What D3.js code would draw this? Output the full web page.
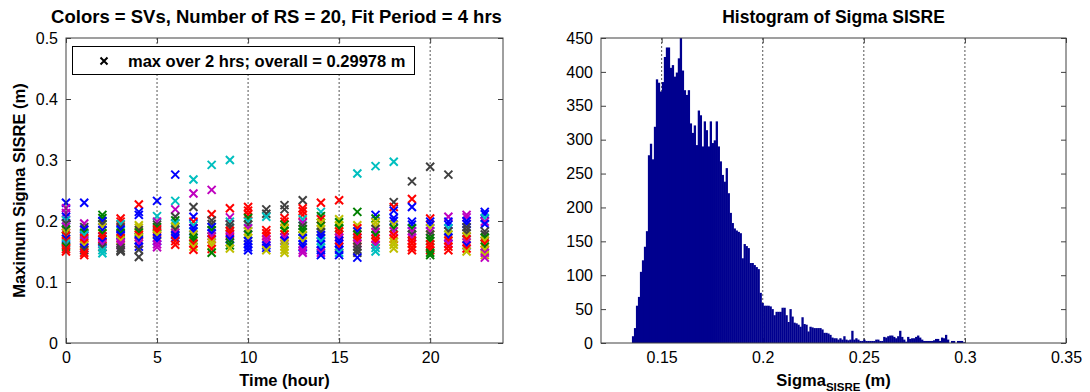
<!DOCTYPE html>
<html>
<head>
<meta charset="utf-8">
<script src="https://cdn.jsdelivr.net/npm/d3@7"></script>
<style>
  body { margin: 0; background: #fff; }
  text { font-family: "Liberation Sans", Arial, sans-serif; fill: #000; }
</style>
</head>
<body>
<svg id="chart" width="1090" height="392"></svg>
<script>
// ---- data ----
const hours = [0, 1, 2, 3, 4, 5, 6, 7, 8, 9, 10, 11, 12, 13, 14, 15, 16, 17, 18, 19, 20, 21, 22, 23];

// max sigma SISRE per SV, one list per hour (top to bottom)
const svValues = [
  [0.230, 0.221, 0.213, 0.207, 0.201, 0.196, 0.191, 0.186, 0.181, 0.176, 0.171, 0.167, 0.163, 0.158, 0.154, 0.150],
  [0.230, 0.196, 0.190, 0.186, 0.181, 0.177, 0.172, 0.168, 0.164, 0.160, 0.156, 0.152, 0.148, 0.144],
  [0.210, 0.205, 0.200, 0.195, 0.190, 0.185, 0.180, 0.175, 0.170, 0.166, 0.162, 0.157, 0.152, 0.147],
  [0.204, 0.199, 0.195, 0.190, 0.186, 0.181, 0.177, 0.172, 0.168, 0.164, 0.160, 0.156, 0.152, 0.150],
  [0.227, 0.215, 0.210, 0.193, 0.189, 0.185, 0.181, 0.177, 0.173, 0.168, 0.163, 0.158, 0.153, 0.141],
  [0.233, 0.208, 0.199, 0.194, 0.190, 0.186, 0.181, 0.177, 0.172, 0.167, 0.162, 0.157],
  [0.276, 0.233, 0.219, 0.207, 0.201, 0.196, 0.191, 0.186, 0.181, 0.177, 0.172, 0.167, 0.161],
  [0.268, 0.245, 0.223, 0.207, 0.199, 0.193, 0.188, 0.183, 0.178, 0.173, 0.168, 0.163, 0.158, 0.153],
  [0.292, 0.251, 0.211, 0.201, 0.195, 0.190, 0.185, 0.180, 0.175, 0.170, 0.165, 0.160, 0.154, 0.148],
  [0.300, 0.221, 0.206, 0.199, 0.194, 0.189, 0.184, 0.179, 0.175, 0.170, 0.165, 0.160, 0.155],
  [0.223, 0.217, 0.211, 0.205, 0.199, 0.194, 0.188, 0.183, 0.178, 0.172, 0.167, 0.162, 0.157, 0.152],
  [0.219, 0.212, 0.207, 0.185, 0.180, 0.175, 0.170, 0.165, 0.160, 0.156, 0.152],
  [0.226, 0.219, 0.205, 0.199, 0.194, 0.189, 0.184, 0.178, 0.173, 0.168, 0.163, 0.158, 0.153, 0.148],
  [0.234, 0.221, 0.216, 0.210, 0.203, 0.197, 0.192, 0.187, 0.182, 0.177, 0.172, 0.167, 0.162, 0.157, 0.152, 0.148],
  [0.230, 0.215, 0.208, 0.203, 0.197, 0.192, 0.187, 0.182, 0.177, 0.172, 0.167, 0.162, 0.157, 0.152, 0.148, 0.144],
  [0.234, 0.203, 0.198, 0.193, 0.188, 0.183, 0.178, 0.173, 0.168, 0.163, 0.158, 0.153, 0.148, 0.144],
  [0.278, 0.215, 0.193, 0.188, 0.183, 0.178, 0.173, 0.168, 0.163, 0.158, 0.153, 0.148, 0.140],
  [0.290, 0.210, 0.204, 0.198, 0.192, 0.187, 0.182, 0.177, 0.171, 0.166, 0.161, 0.156, 0.150],
  [0.297, 0.231, 0.223, 0.217, 0.205, 0.200, 0.194, 0.188, 0.183, 0.177, 0.171, 0.166, 0.161, 0.155],
  [0.265, 0.236, 0.223, 0.199, 0.194, 0.188, 0.183, 0.178, 0.173, 0.168, 0.163, 0.157, 0.152],
  [0.289, 0.204, 0.199, 0.194, 0.188, 0.183, 0.178, 0.172, 0.167, 0.162, 0.157, 0.152, 0.148, 0.144],
  [0.276, 0.207, 0.199, 0.194, 0.188, 0.183, 0.178, 0.173, 0.168, 0.163, 0.158, 0.152],
  [0.210, 0.206, 0.200, 0.195, 0.190, 0.185, 0.180, 0.175, 0.170, 0.165, 0.160, 0.155, 0.150],
  [0.215, 0.211, 0.205, 0.199, 0.195, 0.183, 0.178, 0.173, 0.168, 0.163, 0.158, 0.153, 0.148, 0.144, 0.140]
];

// matlab colour letter of each point above
const svColors = [
  "bmmbckmgyrbrcgrr",
  "bmkbgcrmrybkrr",
  "ggbkybgrrbmkcc",
  "rrckbgbrymmkkk",
  "rbbyykgrybmbkk",
  "bcmkgrrybbmm",
  "bcmkgcykmbbrr",
  "cmkbrcbbyggryr",
  "cmrkkbgbmryyrg",
  "crmckkrrmbggy",
  "rrrgckmygybbbb",
  "kkcrrrmmbby",
  "kkrrgygrmbyyyy",
  "krrrcmkggybybbmm",
  "rcgrygykbbcbcbmb",
  "rygygrrmbbrbcb",
  "cgyrbgrrmkkkb",
  "cbgyykmgrrmcc",
  "ckrbbbygmrryyy",
  "krbbbgmkmrrrr",
  "krbbymkggrrrgg",
  "kmbbckybrmrr",
  "mmbbkkkyrmbry",
  "bbcmbkkgyrgymym"
];

// histogram of sigma SISRE, counts per bin from 0.1353 to 0.300
const histLo = 0.1353;
const histHi = 0.300;
const histCounts = [
  10, 22, 55, 68, 105, 122, 142, 165, 277, 294, 271, 319, 389, 384, 371, 385, 422, 436, 436, 406,
  410, 393, 399, 420, 450, 402, 373, 366, 373, 324, 310, 321, 292, 343, 336, 290,
  327, 314, 290, 327, 295, 299, 327, 290, 268, 248, 238, 258, 221, 192, 177, 169, 166, 164, 162, 125,
  146, 143, 140, 118, 118, 115, 112, 109, 74, 59, 55, 55, 55, 54, 50, 41, 46, 46,
  46, 52, 52, 41, 31, 50, 39, 30, 29, 27, 24, 38, 28, 27, 17, 24, 23, 22, 22, 22,
  22, 20, 15, 15, 14, 12, 8, 7, 7, 5, 7, 5, 10, 5, 4, 5, 18, 5, 7,
  5, 3, 3, 5, 3, 3, 3, 3, 3, 5, 5, 3, 3, 9, 8, 10, 11, 11, 9, 7,
  10, 18, 9, 5, 2, 9, 6, 7, 7, 9, 11, 8, 5, 3, 3, 3, 3, 3, 4, 6,
  6, 3, 8, 7, 12, 5, 0, 3, 3, 0, 3, 3, 3, 1
];

const leftXTicks = [0, 5, 10, 15, 20];
const leftYTicks = [0, 0.1, 0.2, 0.3, 0.4, 0.5];
const rightXTicks = [0.15, 0.2, 0.25, 0.3, 0.35];
const rightYTicks = [0, 50, 100, 150, 200, 250, 300, 350, 400, 450];

const matlabColors = {
  b: "#0000ff", g: "#008000", r: "#ff0000", c: "#00bfbf",
  m: "#bf00bf", y: "#bfbf00", k: "#404040"
};

const svg = d3.select("#chart");
const frameColor = "#404040";
const tickFont = 16;
const titleFont = 18.5;

// draws a matlab style box with inward ticks on all sides
function drawFrame(g, x, y, xTicks, yTicks, xFmt, yFmt, gridX) {
  const [x0, x1] = x.range();
  const [y0, y1] = y.range();

  if (gridX) {
    g.append("g").selectAll("line")
      .data(xTicks.filter(d => x(d) > x0 + 1 && x(d) < x1 - 1))
      .enter().append("line")
      .attr("x1", d => x(d)).attr("x2", d => x(d))
      .attr("y1", y1).attr("y2", y0)
      .attr("stroke", "#555")
      .attr("stroke-width", 1)
      .attr("stroke-dasharray", "2,2");
  }

  const bottom = g.append("g").attr("transform", "translate(0," + y0 + ")")
    .call(d3.axisBottom(x).tickValues(xTicks).tickFormat(xFmt).tickSizeInner(-5).tickSizeOuter(0).tickPadding(9));
  const top = g.append("g").attr("transform", "translate(0," + y1 + ")")
    .call(d3.axisTop(x).tickValues(xTicks).tickFormat("").tickSizeInner(-5).tickSizeOuter(0));
  const left = g.append("g").attr("transform", "translate(" + x0 + ",0)")
    .call(d3.axisLeft(y).tickValues(yTicks).tickFormat(yFmt).tickSizeInner(-5).tickSizeOuter(0).tickPadding(8));
  const right = g.append("g").attr("transform", "translate(" + x1 + ",0)")
    .call(d3.axisRight(y).tickValues(yTicks).tickFormat("").tickSizeInner(-5).tickSizeOuter(0));

  [bottom, top, left, right].forEach(a => {
    a.select(".domain").remove();
    a.selectAll("line").attr("stroke", frameColor);
    a.selectAll("text")
      .attr("font-size", tickFont)
      .attr("font-family", "Liberation Sans, Arial, sans-serif")
      .attr("fill", "#000");
  });

  return g;
}

function drawBorder(g, x, y) {
  const [x0, x1] = x.range();
  const [y0, y1] = y.range();
  g.append("rect")
    .attr("x", x0).attr("y", y1)
    .attr("width", x1 - x0).attr("height", y0 - y1)
    .attr("fill", "none")
    .attr("stroke", frameColor)
    .attr("stroke-width", 1);
}

// ---------------- left: scatter ----------------
const xL = d3.scaleLinear().domain([0, 24]).range([66, 503]);
const yL = d3.scaleLinear().domain([0, 0.5]).range([343, 38]);

const gL = svg.append("g");
drawFrame(gL, xL, yL, leftXTicks, leftYTicks, d3.format("d"), d => d === 0 ? "0" : d3.format(".1f")(d), true);

const pts = [];
hours.forEach((h, i) => {
  svValues[i].forEach((v, j) => {
    pts.push({ h: h, v: v, c: matlabColors[svColors[i][j]] });
  });
});

const xr = 4;
gL.append("g").selectAll("path")
  .data(pts)
  .enter().append("path")
  .attr("transform", d => "translate(" + xL(d.h) + "," + yL(d.v) + ")")
  .attr("d", "M" + (-xr) + "," + (-xr) + "L" + xr + "," + xr + "M" + (-xr) + "," + xr + "L" + xr + "," + (-xr))
  .attr("stroke", d => d.c)
  .attr("stroke-width", 2)
  .attr("fill", "none");

drawBorder(gL, xL, yL);

// legend
const lg = gL.append("g");
lg.append("rect")
  .attr("x", 72.5).attr("y", 46.5)
  .attr("width", 342).attr("height", 28)
  .attr("fill", "#fff").attr("stroke", "#000").attr("stroke-width", 1);
lg.append("path")
  .attr("transform", "translate(104,61)")
  .attr("d", "M-3.5,-3.5L3.5,3.5M-3.5,3.5L3.5,-3.5")
  .attr("stroke", "#000").attr("stroke-width", 2);
lg.append("text")
  .attr("x", 128).attr("y", 66.5)
  .attr("font-size", 16.5).attr("font-weight", "bold")
  .text("max over 2 hrs; overall = 0.29978 m");

gL.append("text")
  .attr("x", (xL.range()[0] + xL.range()[1]) / 2 - 8).attr("y", 23)
  .attr("text-anchor", "middle")
  .attr("font-size", titleFont).attr("font-weight", "bold")
  .text("Colors = SVs, Number of RS = 20, Fit Period = 4 hrs");

gL.append("text")
  .attr("x", (xL.range()[0] + xL.range()[1]) / 2).attr("y", 386)
  .attr("text-anchor", "middle")
  .attr("font-size", 16.5).attr("font-weight", "bold")
  .text("Time (hour)");

gL.append("text")
  .attr("transform", "translate(25," + ((yL.range()[0] + yL.range()[1]) / 2) + ") rotate(-90)")
  .attr("text-anchor", "middle")
  .attr("font-size", 16.5).attr("font-weight", "bold")
  .text("Maximum Sigma SISRE (m)");

// ---------------- right: histogram ----------------
const xR = d3.scaleLinear().domain([0.12, 0.35]).range([601, 1066]);
const yR = d3.scaleLinear().domain([0, 450]).range([343, 38]);

const gR = svg.append("g");
drawFrame(gR, xR, yR, rightXTicks, rightYTicks, d => String(d), d3.format("d"), true);

const binW = (histHi - histLo) / histCounts.length;
gR.append("g").selectAll("rect")
  .data(histCounts)
  .enter().append("rect")
  .attr("x", (d, i) => xR(histLo + i * binW))
  .attr("width", (d, i) => xR(histLo + (i + 1) * binW) - xR(histLo + i * binW) + 0.3)
  .attr("y", d => yR(d))
  .attr("height", d => yR(0) - yR(d))
  .attr("fill", "#00008f");

drawBorder(gR, xR, yR);

gR.append("text")
  .attr("x", (xR.range()[0] + xR.range()[1]) / 2).attr("y", 23)
  .attr("text-anchor", "middle")
  .attr("font-size", titleFont - 1).attr("font-weight", "bold")
  .text("Histogram of Sigma SISRE");

const xl = gR.append("text")
  .attr("x", (xR.range()[0] + xR.range()[1]) / 2).attr("y", 386)
  .attr("text-anchor", "middle")
  .attr("font-size", 16.5).attr("font-weight", "bold");
xl.append("tspan").text("Sigma");
xl.append("tspan").attr("font-size", 11.5).attr("dy", 5).text("SISRE");
xl.append("tspan").attr("dy", -5).text(" (m)");
</script>
</body>
</html>
